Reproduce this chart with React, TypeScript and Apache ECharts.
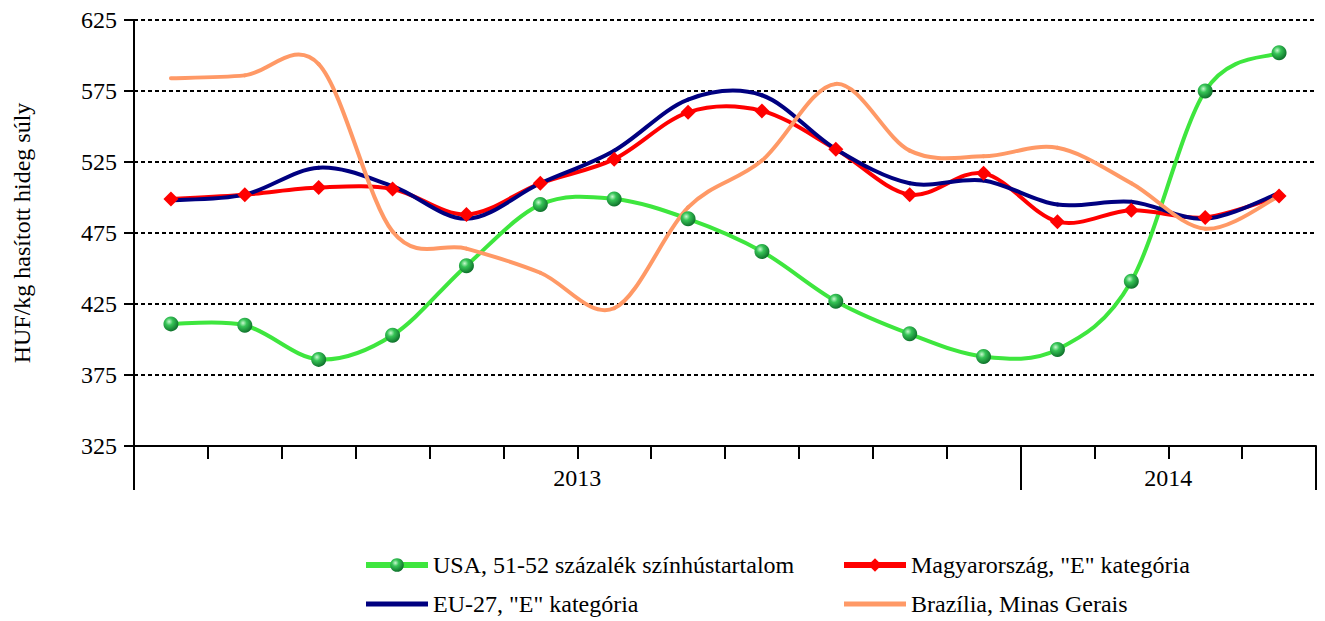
import React, { useEffect, useRef } from "react";
import * as echarts from "echarts";

const months = [
  "2013-01", "2013-02", "2013-03", "2013-04", "2013-05", "2013-06",
  "2013-07", "2013-08", "2013-09", "2013-10", "2013-11", "2013-12",
  "2014-01", "2014-02", "2014-03", "2014-04",
];
const yearLabels = ["2013", "2014"];
const yearLabelPositions = [6, 14];
const yearBoundaries = [0, 12, 16];

const usa = [411, 410, 386, 403, 452, 495, 499, 485, 462, 427, 404, 388, 393, 441, 575, 602];
const hungary = [499, 502, 507, 506, 488, 510, 527, 560, 561, 534, 502, 517, 483, 491, 486, 501];
const eu27 = [498, 502, 521, 508, 485, 510, 533, 569, 572, 534, 510, 512, 495, 497, 485, 503];
const brazil = [584, 586, 594, 476, 464, 447, 422, 493, 526, 580, 533, 529, 535, 510, 478, 501];

const seriesNames = [
  "USA, 51-52 százalék színhústartalom",
  "Magyarország, \"E\" kategória",
  "EU-27, \"E\" kategória",
  "Brazília, Minas Gerais",
];

const FONT = "'Liberation Serif', 'Times New Roman', serif";
const FS = 24;

const GREEN = "#3ee63e";
const RED = "#ff0000";
const NAVY = "#000080";
const ORANGE = "#ff9966";

function makeCurve(name: string, arr: number[], color: string, z: number) {
  const n = arr.length;
  return {
    name,
    type: "custom",
    z,
    data: arr.map((v, i) => [i, v]),
    encode: { x: 0, y: 1 },
    itemStyle: { color },
    silent: true,
    renderItem: (params: any, api: any) => {
      const i = params.dataIndex;
      if (i >= n - 1) return null;
      const pt = (k: number) => {
        const c = Math.max(0, Math.min(n - 1, k));
        return api.coord([c, arr[c]]);
      };
      const p0 = pt(i - 1);
      const p1 = pt(i);
      const p2 = pt(i + 1);
      const p3 = pt(i + 2);
      return {
        type: "bezierCurve",
        shape: {
          x1: p1[0],
          y1: p1[1],
          x2: p2[0],
          y2: p2[1],
          cpx1: p1[0] + (p2[0] - p0[0]) / 6,
          cpy1: p1[1] + (p2[1] - p0[1]) / 6,
          cpx2: p2[0] - (p3[0] - p1[0]) / 6,
          cpy2: p2[1] - (p3[1] - p1[1]) / 6,
        },
        style: { stroke: color, lineWidth: 4, fill: null, lineCap: "round" },
      };
    },
  };
}

export default function App() {
  const ref = useRef<HTMLDivElement>(null);
  useEffect(() => {
    if (!ref.current) return;
    const chart = echarts.init(ref.current, undefined, { renderer: "svg" });
    const sphere = {
      type: "radial",
      x: 0.38,
      y: 0.35,
      r: 0.7,
      colorStops: [
        { offset: 0, color: "#c8f8cf" },
        { offset: 0.35, color: "#36c456" },
        { offset: 1, color: "#0b6a27" },
      ],
    };
    const barIcon = "path://M0,0M62,17M0,6H62V11H0Z";
    const legendCommon = {
      orient: "vertical",
      top: 553,
      height: 80,
      padding: 0,
      itemGap: 15,
      itemWidth: 62,
      itemHeight: 17,
      lineStyle: { width: 6, opacity: 1 },
      textStyle: { fontFamily: FONT, fontSize: FS, color: "#000" },
    };
    chart.setOption({
      animation: false,
      grid: { left: 134, right: 9, top: 20, bottom: 175, containLabel: false },
      textStyle: { fontFamily: FONT },
      legend: [
        {
          ...legendCommon,
          left: 363,
          data: [
            { name: seriesNames[0] },
            { name: seriesNames[2], icon: barIcon, itemStyle: { color: NAVY } },
          ],
        },
        {
          ...legendCommon,
          left: 841,
          data: [
            { name: seriesNames[1] },
            { name: seriesNames[3], icon: barIcon, itemStyle: { color: ORANGE } },
          ],
        },
      ],
      xAxis: [
        {
          type: "category",
          data: months,
          boundaryGap: true,
          axisLine: { show: true, lineStyle: { color: "#000", width: 2 } },
          axisTick: { show: true, interval: 0, length: 13, lineStyle: { color: "#000", width: 2 } },
          axisLabel: { show: false },
          splitLine: { show: false },
        },
        {
          type: "value",
          min: 0,
          max: 16,
          position: "bottom",
          axisLine: { show: false },
          splitLine: { show: false },
          axisTick: {
            show: true,
            customValues: yearBoundaries,
            length: 44,
            lineStyle: { color: "#000", width: 2 },
          },
          axisLabel: {
            show: true,
            customValues: yearLabelPositions,
            formatter: (v: number) => yearLabels[yearLabelPositions.indexOf(v)] ?? "",
            margin: 20,
            fontSize: FS,
            color: "#000",
            fontFamily: FONT,
          },
        },
      ],
      yAxis: {
        type: "value",
        min: 325,
        max: 625,
        interval: 50,
        name: "HUF/kg hasított hideg súly",
        nameLocation: "middle",
        nameRotate: 90,
        nameGap: 100,
        nameTextStyle: { fontFamily: FONT, fontSize: FS, color: "#000" },
        axisLine: { show: true, lineStyle: { color: "#000", width: 2 } },
        axisTick: { show: true, length: 10, lineStyle: { color: "#000", width: 2 } },
        axisLabel: { fontFamily: FONT, fontSize: FS, color: "#000", margin: 17 },
        splitLine: { show: true, lineStyle: { color: "#000", width: 2, type: [4, 3] } },
      },
      series: [
        {
          name: seriesNames[0],
          type: "line",
          data: usa,
          symbol: "circle",
          symbolSize: 15,
          itemStyle: { color: sphere, borderWidth: 0 },
          lineStyle: { color: GREEN, width: 4, opacity: 0 },
          z: 6,
        },
        {
          name: seriesNames[1],
          type: "line",
          data: hungary,
          symbol: "diamond",
          symbolSize: 15,
          itemStyle: { color: RED },
          lineStyle: { color: RED, width: 4, opacity: 0 },
          z: 7,
        },
        makeCurve(seriesNames[0], usa, GREEN, 2),
        makeCurve(seriesNames[1], hungary, RED, 3),
        makeCurve(seriesNames[2], eu27, NAVY, 4),
        makeCurve(seriesNames[3], brazil, ORANGE, 5),
      ],
    });
    return () => chart.dispose();
  }, []);
  return (
    <div
      ref={ref}
      style={{ position: "fixed", left: 0, top: 0, width: 1325, height: 621, background: "#fff" }}
    />
  );
}
